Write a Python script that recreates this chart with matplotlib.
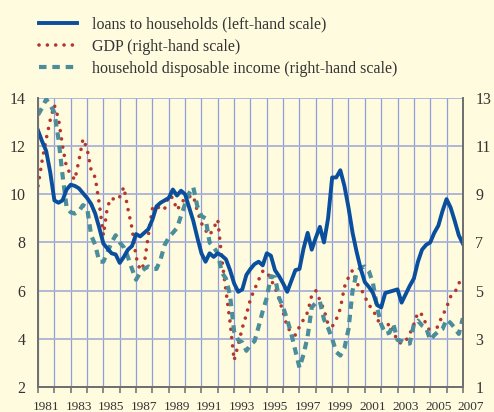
import numpy as np
import matplotlib
matplotlib.use("Agg")
from matplotlib import pyplot as plt
from matplotlib import transforms

# quarterly observations, 1981Q1 .. 2007Q1
START_YEAR = 1981

loans = [
    12.65, 12.2, 11.8, 10.9,
    9.75, 9.65, 9.75, 10.2,
    10.4, 10.35, 10.25, 10.05,
    9.85, 9.6, 9.2, 8.6,
    7.95, 7.75, 7.55, 7.5,
    7.15, 7.4, 7.7, 7.85,
    8.35, 8.25, 8.4, 8.55,
    8.95, 9.5, 9.65, 9.75,
    9.85, 10.2, 9.95, 10.15,
    10.0, 9.45, 8.9, 8.2,
    7.55, 7.2, 7.55, 7.4,
    7.55, 7.45, 7.3, 6.85,
    6.3, 5.95, 6.05, 6.65,
    6.9, 7.1, 7.2, 7.05,
    7.55, 7.45, 6.85, 6.6,
    6.3, 5.95, 6.4, 6.85,
    6.9, 7.75, 8.4, 7.7,
    8.2, 8.65, 8.0, 9.0,
    10.7, 10.7, 11.0, 10.35,
    9.45, 8.4, 7.6, 6.9,
    6.35, 6.15, 5.9, 5.4,
    5.3, 5.9, 5.95, 6.0,
    6.05, 5.5, 5.85, 6.2,
    6.5, 7.2, 7.7, 7.9,
    8.0, 8.4, 8.7, 9.3,
    9.8, 9.45, 8.9, 8.3,
    7.95,
]

gdp = [
    9.35, 10.4, 11.3, 12.1,
    12.7, 12.15, 11.0, 10.1,
    9.85, 9.6, 10.4, 11.3,
    10.9, 10.0, 9.7, 8.6,
    7.3, 8.5, 8.85, 8.75,
    8.9, 9.3, 8.4, 7.6,
    6.4, 5.85, 6.1, 7.3,
    8.4, 8.55, 8.35, 8.4,
    8.95, 8.85, 8.35, 8.6,
    8.85, 8.9, 8.95, 8.3,
    7.8, 7.5, 7.3, 7.6,
    7.95, 6.3, 5.0, 3.7,
    2.1, 2.75, 3.45, 4.0,
    4.65, 5.05, 5.45, 5.8,
    5.8, 5.45, 5.15, 4.65,
    4.1, 3.5, 3.25, 3.15,
    3.5, 3.8, 4.1, 4.8,
    5.0, 4.6, 4.2, 3.6,
    3.5, 3.8, 4.25, 5.15,
    5.55, 5.85, 5.3, 5.1,
    4.75, 4.4, 4.2, 3.85,
    3.5, 3.4, 3.65, 3.3,
    2.9, 2.8, 2.9, 3.2,
    3.6, 4.1, 4.0, 3.6,
    3.3, 3.15, 3.6, 3.95,
    4.3, 4.75, 4.9, 5.3,
    5.55,
]

income = [
    12.3, 12.6, 12.95, 12.7,
    12.4, 11.3, 9.8, 8.45,
    8.25, 8.2, 8.3, 8.55,
    8.45, 7.3, 6.9, 6.2,
    6.2, 6.6, 7.0, 7.3,
    7.0, 6.8, 6.4, 5.9,
    5.45, 5.75, 5.9, 6.0,
    5.9, 5.9, 6.3, 6.9,
    7.2, 7.4, 7.6, 8.1,
    8.6, 9.05, 9.3, 8.5,
    8.1, 8.0, 7.0, 6.8,
    6.55, 5.75, 5.5, 4.8,
    3.3, 2.95, 2.85, 2.5,
    2.75, 2.9, 3.5, 4.15,
    4.7, 5.6, 5.55, 4.7,
    4.3, 3.8, 3.2, 2.5,
    1.8, 2.35, 3.1, 4.3,
    4.5, 4.55, 3.8, 3.45,
    3.0, 2.45, 2.3, 2.6,
    3.4, 5.0, 5.75, 5.95,
    6.0, 5.8, 5.3, 4.3,
    3.6, 3.2, 3.25, 3.6,
    2.95, 2.9, 2.8, 2.8,
    3.6, 3.75, 3.55, 3.45,
    2.95, 3.15, 3.3, 3.4,
    3.8, 3.65, 3.45, 3.2,
    3.85,
]

years = START_YEAR + np.arange(len(loans)) * 0.25
tick_years = list(range(1981, 2008))
tick_labels = [str(y) if (y - 1981) % 2 == 0 else "" for y in tick_years]

BG = "#fffbdf"
BLUE = "#0a4f9e"
RED = "#b5372c"
TEAL = "#4b8d9b"

plt.rcParams["font.family"] = ["Liberation Serif", "DejaVu Serif"]

fig = plt.figure(figsize=(4.94, 4.12), dpi=100, facecolor=BG)
ax2 = fig.add_axes([0.077, 0.061, 0.86, 0.701])
ax = ax2.twinx()
ax2.set_facecolor(BG)
ax2.set_zorder(1)
ax.set_zorder(2)
ax.patch.set_visible(False)

# right-hand scale series
l_gdp, = ax2.plot(years, gdp, color=RED, lw=2.6, linestyle=(0, (0.01, 2.3)),
                  dash_capstyle="round", label="GDP (right-hand scale)")
l_inc, = ax2.plot(years, income, color=TEAL, lw=3.0, linestyle=(0, (1.8, 1.4)),
                  label="household disposable income (right-hand scale)")
# left-hand scale series
l_loans, = ax.plot(years, loans, color=BLUE, lw=2.8,
                   label="loans to households (left-hand scale)")

ax2.set_xlim(1981, 2007)
ax2.set_ylim(1, 13)
ax.set_ylim(2, 14)

# left axis labels come from the twin, so swap sides
ax.yaxis.tick_left()
ax2.yaxis.tick_right()
ax.set_yticks(range(2, 15, 2))
ax2.set_yticks(range(1, 14, 2))
ax.tick_params(axis="y", length=0, pad=9, labelsize=11.5, labelcolor="#333333")
ax2.tick_params(axis="y", length=0, pad=9, labelsize=11.5, labelcolor="#333333")

ax2.set_xticks(tick_years)
ax2.set_xticklabels(tick_labels)
ax2.tick_params(axis="x", direction="out", length=4, width=1.2, color="#777777",
                pad=6, labelsize=9.5, labelcolor="#333333")
ax.tick_params(axis="x", bottom=False, labelbottom=False)
# year labels sit in the middle of the year
offset = transforms.ScaledTranslation(8 / 100, 0, fig.dpi_scale_trans)
for lbl in ax2.get_xticklabels():
    lbl.set_transform(lbl.get_transform() + offset)

ax2.grid(axis="x", color="#8f9fdc", lw=0.9)
ax2.grid(axis="y", color="#aab2d4", lw=1.3)
ax2.set_axisbelow(True)

for a in (ax, ax2):
    a.spines["top"].set_visible(False)
    for s in ("left", "right", "bottom"):
        a.spines[s].set_color("#707070")
        a.spines[s].set_linewidth(1.3)

fig.legend(handles=[l_loans, l_gdp, l_inc], loc="upper left",
           bbox_to_anchor=(0.05, 0.995), frameon=False, fontsize=11.5,
           handlelength=2.4, handletextpad=0.9, labelspacing=0.38,
           labelcolor="#333333")

fig.savefig("out.png", dpi=100, facecolor=BG)
